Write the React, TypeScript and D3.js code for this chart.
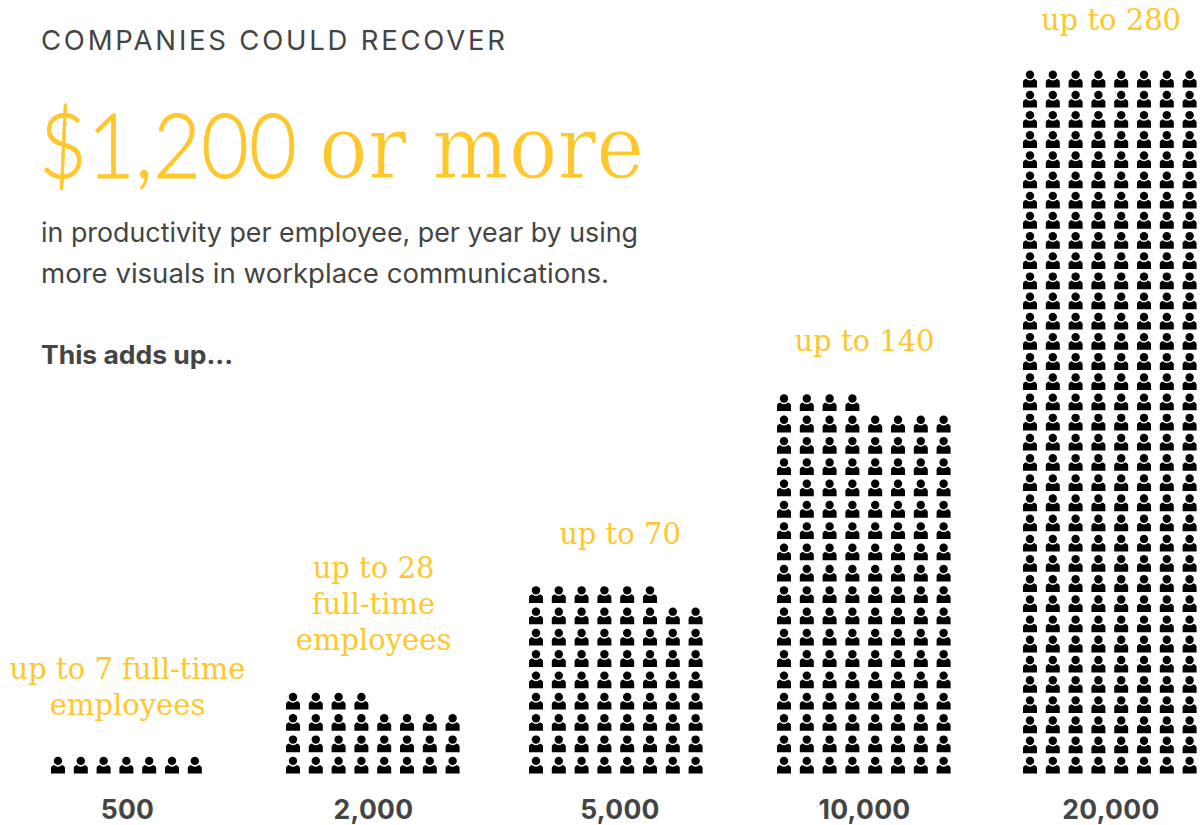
import React from "react";
import * as d3 from "d3";

const companySizes = ["500", "2,000", "5,000", "10,000", "20,000"];
const iconCounts = [7, 28, 70, 140, 280];
const captionLines = [
  ["up to 7 full-time", "employees"],
  ["up to 28", "full-time", "employees"],
  ["up to 70"],
  ["up to 140"],
  ["up to 280"],
];
const captionBase = [715, 650, 544, 351, 30];
const rowPitch = [21.32, 21.32, 21.32, 21.32, 20.18];
const PER_ROW = 8;

const SANS = "Inter, Lato, sans-serif";
const LIGHT = "Lato, sans-serif";
const SLAB = "'DejaVu Serif', serif";
const YEL = "#ffc72c";
const INK = "#444444";

const groupLeft = d3.scaleOrdinal<string, number>().domain(companySizes).range([51, 286, 529, 777, 1023]);
const groupCenter = d3.scaleOrdinal<string, number>().domain(companySizes).range([127.5, 373.5, 620, 864.5, 1111]);
const colX = d3.scaleLinear().domain([0, 1]).range([0, 22.8]);

const BODY = "M0,16.5 V11 C0,9.4 1.4,8.4 3,7.9 A5.5,5.5 0 0 0 11,7.9 C12.6,8.4 14,9.4 14,11 V16.5 Z";

function Person({ x, y }: { x: number; y: number }) {
  return (
    <g transform={`translate(${x},${y})`}>
      <circle cx={7} cy={3.9} r={4.2} fill="#000" />
      <path d={BODY} fill="#000" />
    </g>
  );
}

export default function App() {
  return (
    <svg width={1200} height={825} viewBox="0 0 1200 825" style={{ position: "absolute", left: 0, top: 0, background: "#fff" }}>
      <text x={41} y={50} fontFamily={SANS} fontSize={27.5} textLength={464} fill={INK} fontWeight={400}>COMPANIES COULD RECOVER</text>
      <text y={178} fill={YEL}>
        <tspan x={39} fontFamily={LIGHT} fontWeight={300} fontSize={90} textLength={258} lengthAdjust="spacingAndGlyphs" stroke={YEL} strokeWidth={0.8}>$1,200</tspan>
        <tspan x={319} fontFamily={SLAB} fontSize={87} textLength={325} lengthAdjust="spacingAndGlyphs" stroke="#fff" strokeWidth={1.2}>or more</tspan>
      </text>
      <text x={41} y={242} fontFamily={SANS} fontSize={26.5} textLength={597} lengthAdjust="spacingAndGlyphs" fill={INK}>in productivity per employee, per year by using</text>
      <text x={41} y={283} fontFamily={SANS} fontSize={26.5} textLength={568} lengthAdjust="spacingAndGlyphs" fill={INK}>more visuals in workplace communications.</text>
      <text x={41} y={364} fontFamily={SANS} fontSize={25} fontWeight={700} textLength={192} lengthAdjust="spacingAndGlyphs" fill={INK}>This adds up...</text>
      {companySizes.map((s, i) => {
        const rowY = d3.scaleLinear().domain([0, 1]).range([757, 757 - rowPitch[i]]);
        const cells = d3.range(iconCounts[i]);
        const lines = captionLines[i];
        return (
          <g key={s}>
            {cells.map((c) => (
              <Person key={c} x={groupLeft(s) + colX(c % PER_ROW)} y={rowY(Math.floor(c / PER_ROW))} />
            ))}
            {lines.map((l, k) => (
              <text key={k} x={groupCenter(s)} y={captionBase[i] - (lines.length - 1 - k) * 36} textAnchor="middle" fontFamily={SLAB} fontSize={29} fill={YEL}>{l}</text>
            ))}
            <text x={groupCenter(s)} y={819} textAnchor="middle" fontFamily={SANS} fontSize={26.5} fontWeight={700} letterSpacing={0.3} fill={INK}>{s}</text>
          </g>
        );
      })}
    </svg>
  );
}
